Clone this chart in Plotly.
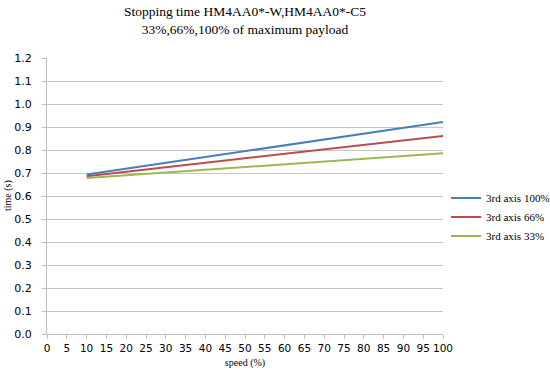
import plotly.graph_objects as go

speed = [10, 100]
axis100 = [0.693, 0.922]
axis66 = [0.686, 0.861]
axis33 = [0.678, 0.786]
names = ["3rd axis 100%", "3rd axis 66%", "3rd axis 33%"]
colors = ["#4a7ebb", "#be4b48", "#98b954"]
x_ticks = list(range(0, 101, 5))
y_ticks = [round(i * 0.1, 1) for i in range(13)]

fig = go.Figure()
for ys, n, c in zip([axis100, axis66, axis33], names, colors):
    fig.add_trace(go.Scatter(x=speed, y=ys, mode="lines", name=n,
                             line=dict(color=c, width=2)))

serif = "Liberation Serif"
sans = "DejaVu Sans"

W, H = 550, 377
fig.update_layout(
    width=W, height=H,
    margin=dict(l=47, r=107, t=58, b=43),
    paper_bgcolor="white", plot_bgcolor="white",
    title=dict(text="Stopping time HM4AA0*-W,HM4AA0*-C5<br>33%,66%,100% of maximum payload",
               x=0.5, xref="paper", xanchor="center", y=1 - 16 / H, yanchor="middle",
               font=dict(family=serif, size=13.5, color="black")),
    legend=dict(x=446 / W, xref="container", y=0.424, yref="paper",
                xanchor="left", yanchor="middle",
                font=dict(family=serif, size=11, color="black"),
                tracegroupgap=0, itemwidth=30, bgcolor="rgba(0,0,0,0)"),
    xaxis=dict(range=[0, 100], tickvals=x_ticks, ticktext=[str(v) for v in x_ticks],
               showgrid=False, showline=True, linecolor="#bfbfbf", linewidth=1,
               ticks="outside", ticklen=4, tickcolor="#bfbfbf", tickangle=0,
               tickfont=dict(family=sans, size=10.5, color="black"),
               title=dict(text="speed (%)", font=dict(family=serif, size=10, color="black"), standoff=6),
               zeroline=False, automargin=False),
    yaxis=dict(range=[0, 1.2], tickvals=y_ticks, ticktext=[f"{v:.1f}" for v in y_ticks],
               showgrid=True, gridcolor="#c6c6c6", gridwidth=1,
               showline=True, linecolor="#bfbfbf", linewidth=1,
               ticks="outside", ticklen=4, tickcolor="#bfbfbf",
               tickfont=dict(family=sans, size=11, color="black"),
               ticklabelstandoff=8,
               zeroline=False, automargin=False),
    annotations=[dict(text="time (s)", textangle=-90, showarrow=False,
                      xref="paper", yref="paper", x=-39 / 396, y=0.5,
                      xanchor="center", yanchor="middle",
                      font=dict(family=serif, size=10, color="black"))],
)

fig.write_html("out.html", config={"displayModeBar": False},
               post_script="document.body.style.margin='0';")
